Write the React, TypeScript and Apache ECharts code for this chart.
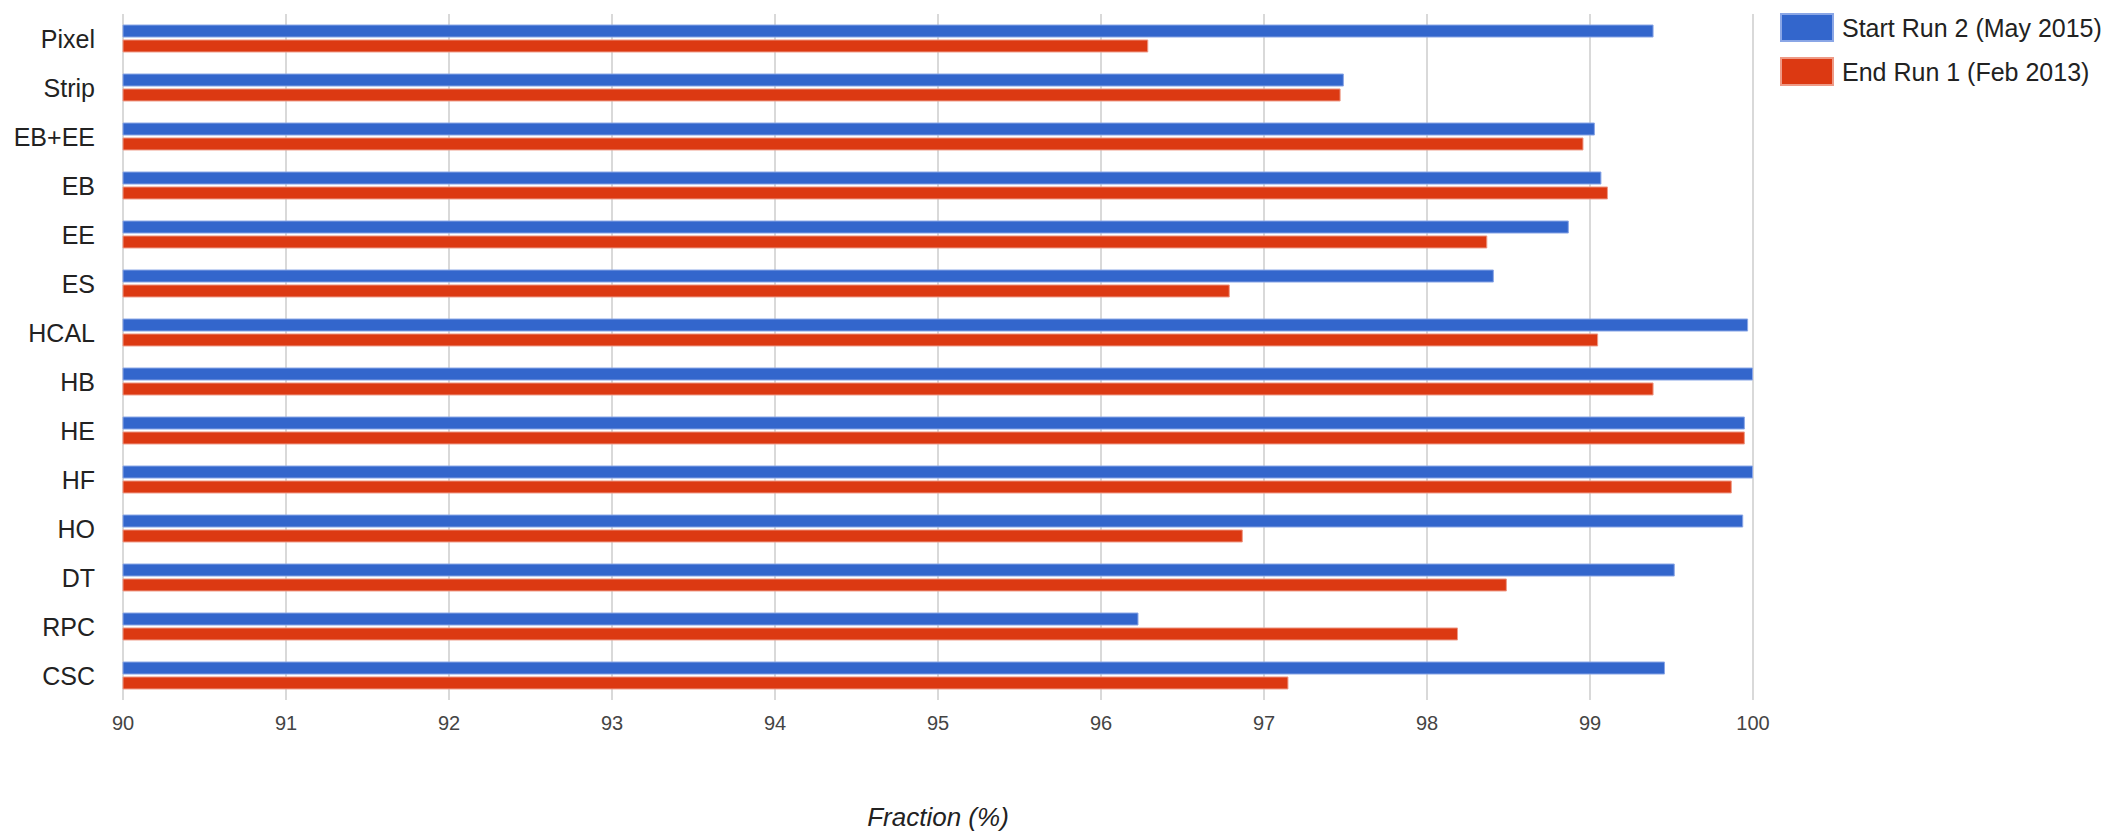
import React, { useEffect, useRef } from "react";
import * as echarts from "echarts";

const categories = ["Pixel", "Strip", "EB+EE", "EB", "EE", "ES", "HCAL", "HB", "HE", "HF", "HO", "DT", "RPC", "CSC"];
const startRun2 = [99.39, 97.49, 99.03, 99.07, 98.87, 98.41, 99.97, 100.0, 99.95, 100.0, 99.94, 99.52, 96.23, 99.46];
const endRun1 = [96.29, 97.47, 98.96, 99.11, 98.37, 96.79, 99.05, 99.39, 99.95, 99.87, 96.87, 98.49, 98.19, 97.15];
const seriesNames = ["Start Run 2 (May 2015)", "End Run 1 (Feb 2013)"];
const xTicks = { min: 90, max: 100, interval: 1 };
const axisTitle = "Fraction (%)";

const FONT = "'Liberation Sans', Arial, Helvetica, sans-serif";

export default function App() {
  const ref = useRef<HTMLDivElement>(null);
  useEffect(() => {
    if (!ref.current) return;
    const chart = echarts.init(ref.current, null, { renderer: "svg" });
    chart.setOption({
      animation: false,
      backgroundColor: "#ffffff",
      textStyle: { fontFamily: FONT },
      grid: { left: 123, right: 358, top: 14, bottom: 138, containLabel: false },
      legend: {
        orient: "vertical",
        left: 1780,
        top: 13,
        padding: 0,
        itemWidth: 52,
        itemHeight: 27,
        itemGap: 15,
        icon: "rect",
        data: seriesNames,
        textStyle: { fontSize: 25, color: "#222", fontFamily: FONT, padding: [0, 0, 0, 4] },
      },
      xAxis: {
        type: "value",
        min: xTicks.min,
        max: xTicks.max,
        interval: xTicks.interval,
        axisLine: { show: false },
        axisTick: { show: false },
        splitLine: { show: true, lineStyle: { color: "#cccccc", width: 1.5 } },
        axisLabel: { fontSize: 20, color: "#444", margin: 13, fontFamily: FONT },
        name: axisTitle,
        nameLocation: "middle",
        nameGap: 104,
        nameTextStyle: { fontSize: 26, fontStyle: "italic", color: "#222", fontFamily: FONT },
      },
      yAxis: {
        type: "category",
        inverse: true,
        data: categories,
        axisLine: { show: false },
        axisTick: { show: false },
        axisLabel: { fontSize: 25, color: "#222", margin: 28, fontFamily: FONT },
      },
      series: [
        {
          name: seriesNames[0],
          type: "bar",
          data: startRun2,
          barWidth: 13,
          barGap: "15%",
          itemStyle: { color: "#3366CC", borderColor: "#8aa6e6", borderWidth: 1 },
        },
        {
          name: seriesNames[1],
          type: "bar",
          data: endRun1,
          barWidth: 13,
          barGap: "15%",
          itemStyle: { color: "#DC3912", borderColor: "#ee9a86", borderWidth: 1 },
        },
      ],
    });
    return () => chart.dispose();
  }, []);
  return (
    <div
      ref={ref}
      style={{ position: "fixed", left: 0, top: 0, width: 2111, height: 838, background: "#fff" }}
    />
  );
}
